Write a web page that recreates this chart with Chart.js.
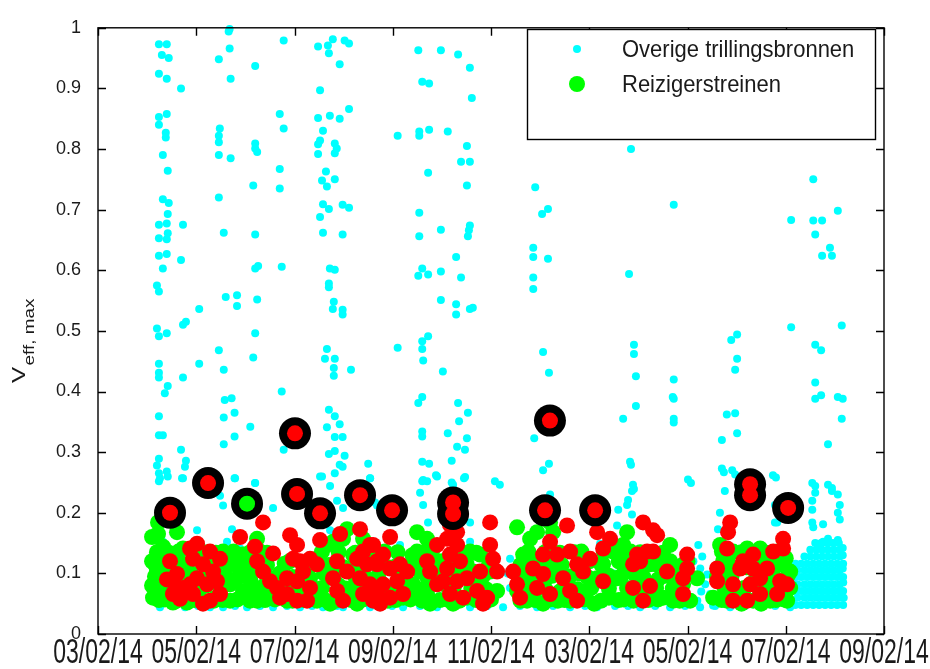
<!DOCTYPE html>
<html>
<head>
<meta charset="utf-8">
<script src="https://cdn.jsdelivr.net/npm/chart.js@4.4.1/dist/chart.umd.min.js"></script>
<style>
html,body{margin:0;padding:0;background:#fff;}
#wrap{width:930px;height:669px;position:relative;}
canvas{display:block;}
</style>
</head>
<body>
<div id="wrap"><canvas id="c" width="930" height="669"></canvas></div>
<script>
// ---------- tick labels ----------
const xTickValues = [0,1,2,3,4,5,6,7,8];
const xTickLabels = ['03/02/14','05/02/14','07/02/14','09/02/14','11/02/14','03/02/14','05/02/14','07/02/14','09/02/14'];
const yTickLabels = ['0','0.1','0.2','0.3','0.4','0.5','0.6','0.7','0.8','0.9','1'];
const legendLabels = ['Overige trillingsbronnen','Reizigerstreinen'];
const yAxisTitle = 'V';
const yAxisSub = 'eff, max';

// ---------- series: Overige trillingsbronnen (cyan) [x, V] ----------
const otherSources = [
[0.62,0.973],[0.70,0.973],[0.65,0.955],[0.72,0.95],[0.62,0.924],[0.70,0.916],[0.845,0.90],[0.62,0.853],[0.70,0.858],[0.62,0.84],[0.69,0.827],[0.69,0.819],[0.66,0.79],[0.71,0.764],[0.66,0.717],[0.72,0.711],[0.71,0.693],[0.62,0.675],[0.70,0.677],[0.865,0.675],[0.62,0.653],[0.71,0.661],[0.70,0.651],[0.62,0.624],[0.70,0.627],[0.66,0.603],[0.845,0.617],[0.60,0.575],[0.62,0.565],[1.03,0.536],[0.865,0.51],[0.895,0.515],[0.60,0.504],[0.62,0.491],[0.70,0.496],[0.62,0.446],[0.62,0.431],[0.62,0.423],[1.03,0.446],[0.865,0.423],[0.71,0.409],[0.68,0.397],[0.62,0.359],[0.62,0.328],[0.66,0.328],[0.845,0.304],[0.62,0.289],[0.895,0.286],[0.60,0.278],[0.885,0.276],[0.62,0.265],[0.70,0.268],[0.71,0.26],[0.865,0.257],[0.62,0.252],
[1.33,0.994],[1.34,0.998],[1.34,0.966],[1.23,0.948],[1.35,0.916],[1.60,0.937],[1.89,0.979],[1.24,0.834],[1.23,0.822],[1.23,0.811],[1.23,0.79],[1.35,0.785],[1.60,0.809],[1.60,0.801],[1.62,0.795],[1.85,0.858],[1.89,0.834],[1.85,0.767],[1.85,0.735],[1.58,0.74],[1.23,0.72],[1.28,0.662],[1.60,0.659],[1.60,0.603],[1.63,0.607],[1.87,0.606],[1.30,0.556],[1.415,0.559],[1.415,0.541],[1.62,0.552],[1.60,0.496],[1.23,0.468],[1.58,0.456],[1.28,0.436],[1.87,0.40],[1.29,0.386],[1.36,0.389],[1.39,0.365],[1.28,0.357],[1.55,0.342],[1.39,0.326],[1.28,0.313],[1.89,0.304],[1.39,0.257],[1.60,0.249],
[2.24,0.969],[2.34,0.971],[2.39,0.981],[2.51,0.979],[2.555,0.974],[2.35,0.958],[2.46,0.94],[2.26,0.897],[2.555,0.866],[2.24,0.851],[2.36,0.855],[2.46,0.85],[2.29,0.83],[2.26,0.814],[2.24,0.808],[2.41,0.809],[2.43,0.801],[2.24,0.792],[2.41,0.793],[2.32,0.763],[2.28,0.748],[2.41,0.75],[2.33,0.738],[2.29,0.709],[2.35,0.701],[2.26,0.688],[2.49,0.708],[2.555,0.703],[2.29,0.662],[2.49,0.659],[2.36,0.603],[2.41,0.601],[2.35,0.578],[2.35,0.572],[2.40,0.548],[2.39,0.536],[2.49,0.535],[2.49,0.527],[2.33,0.47],[2.31,0.454],[2.41,0.454],[2.40,0.439],[2.40,0.426],[2.575,0.436],[2.35,0.37],[2.41,0.359],[2.33,0.341],[2.46,0.346],[2.41,0.325],[2.49,0.325],[2.35,0.297],[2.41,0.302],[2.51,0.294],[2.46,0.279],[2.49,0.276],[2.75,0.281],[2.26,0.26],[2.41,0.265],[2.77,0.257],
[3.26,0.963],[3.49,0.963],[3.665,0.956],[3.785,0.934],[3.30,0.911],[3.37,0.908],[3.805,0.884],[3.05,0.822],[3.27,0.829],[3.27,0.822],[3.37,0.832],[3.56,0.829],[3.755,0.805],[3.695,0.779],[3.785,0.779],[3.36,0.761],[3.755,0.74],[3.27,0.695],[3.49,0.667],[3.785,0.674],[3.775,0.666],[3.765,0.656],[3.27,0.656],[3.645,0.622],[3.30,0.603],[3.26,0.591],[3.36,0.593],[3.49,0.598],[3.695,0.588],[3.49,0.551],[3.645,0.544],[3.645,0.527],[3.785,0.536],[3.815,0.538],[3.36,0.491],[3.30,0.483],[3.30,0.47],[3.05,0.472],[3.31,0.451],[3.51,0.433],[3.30,0.391],[3.26,0.381],[3.665,0.381],[3.765,0.365],[3.675,0.351],[3.30,0.334],[3.30,0.326],[3.56,0.331],[3.755,0.323],[3.655,0.309],[3.735,0.304],[3.30,0.284],[3.37,0.281],[3.60,0.286],[3.44,0.262],[3.30,0.252],[3.35,0.252],[3.725,0.257],[3.60,0.25],[4.04,0.252],
[4.58,0.99],[7.53,0.99],[5.425,0.80],[4.45,0.737],[4.58,0.701],[4.52,0.693],[4.43,0.637],[4.43,0.622],[4.58,0.619],[4.43,0.588],[4.43,0.569],[5.86,0.708],[5.405,0.594],[7.28,0.75],[7.53,0.698],[7.055,0.683],[7.28,0.682],[7.37,0.682],[7.30,0.659],[7.45,0.637],[7.37,0.624],[7.47,0.624],[4.53,0.465],[4.59,0.431],[5.455,0.477],[5.455,0.462],[5.475,0.425],[5.475,0.376],[5.345,0.355],[5.86,0.42],[5.85,0.391],[5.86,0.388],[5.86,0.355],[5.86,0.349],[6.445,0.485],[6.505,0.494],[6.505,0.454],[6.485,0.436],[6.40,0.362],[6.485,0.364],[6.505,0.331],[6.35,0.32],[7.055,0.506],[7.57,0.509],[7.30,0.477],[7.36,0.468],[7.30,0.415],[7.30,0.388],[7.36,0.394],[7.53,0.391],[7.58,0.388],[7.57,0.355],[7.43,0.313],[4.44,0.323],[4.59,0.281],[4.53,0.27],[5.425,0.279],[5.455,0.239],[6.035,0.249],[6.37,0.267],[6.485,0.263],[6.90,0.258],[7.30,0.244],[7.47,0.241],[4.09,0.246],
[0.631,0.257],[0.855,0.257],[1.395,0.257],[1.598,0.249],[1.242,0.228],[1.273,0.212],[1.782,0.208],[2.28,0.26],[2.362,0.244],[2.433,0.22],[2.494,0.208],[2.769,0.257],[2.84,0.212],[1.008,0.171],[1.364,0.173],[1.313,0.152],[1.446,0.141],[2.362,0.171],[2.433,0.141],[0.60,0.136],[0.662,0.152],
[3.309,0.254],[3.451,0.26],[3.736,0.259],[3.278,0.233],[3.309,0.213],[3.614,0.246],[3.359,0.184],[3.787,0.184],[4.601,0.23],[2.82,0.217],[3.074,0.147],[3.787,0.152],[5.283,0.179],[5.11,0.149],[5.283,0.131],[4.194,0.124],[4.194,0.076],[4.17,0.10],[5.212,0.071],[5.283,0.06],[5.25,0.10],
[7.27,0.249],[7.43,0.246],[7.47,0.236],[7.30,0.233],[7.53,0.23],[7.27,0.22],[7.55,0.213],[7.27,0.205],[7.53,0.20],[7.27,0.184],[7.38,0.181],[7.55,0.189],[7.28,0.176],[7.43,0.157],[7.53,0.155],[7.38,0.152],[7.35,0.141],
[5.415,0.284],[6.005,0.255],[6.35,0.273],[6.455,0.27],[6.87,0.262],[5.445,0.246],[5.435,0.236],[5.395,0.221],[5.385,0.213],[5.295,0.205],[5.435,0.197],[6.38,0.236],[6.33,0.20],[6.31,0.173],[6.89,0.213],[6.89,0.184],[6.11,0.147],[6.912,0.184],
[6.06,0.12],[6.13,0.108],[6.18,0.082],[6.23,0.066],[6.10,0.055],[6.26,0.047],[6.15,0.128],[6.08,0.095],[6.20,0.098],[6.14,0.07],
[0.631,0.044],[0.886,0.044],[1.14,0.044],[1.273,0.044],[1.517,0.044],[1.782,0.044],[2.056,0.044],[2.29,0.044],[2.494,0.044],[2.769,0.044],[2.871,0.044],[3.105,0.044],[3.451,0.044],[3.787,0.044],[4.123,0.044],[4.469,0.044],[4.805,0.044],[5.08,0.044],[5.141,0.05],[5.518,0.044],[5.823,0.044],[6.128,0.044],[6.434,0.044],[6.739,0.044],[7.045,0.044],
[0.753,0.046],[1.018,0.046],[1.395,0.046],[1.649,0.046],[1.924,0.046],[2.179,0.046],[2.433,0.046],[2.657,0.046],[2.993,0.046],[3.278,0.046],[3.614,0.046],[3.96,0.046],[4.296,0.046],[4.632,0.046],[4.958,0.046],[5.263,0.046],[5.396,0.046],[5.671,0.046],[5.976,0.046],[6.281,0.046],[6.587,0.046],[6.892,0.046],
[7.096,0.048],[7.157,0.048],[7.218,0.048],[7.279,0.048],[7.34,0.048],[7.401,0.048],[7.462,0.048],[7.523,0.048],[7.584,0.048],
[7.12,0.06],[7.19,0.06],[7.25,0.06],[7.31,0.06],[7.37,0.06],[7.43,0.06],[7.49,0.06],[7.55,0.06],[7.59,0.06],
[7.096,0.071],[7.157,0.071],[7.218,0.071],[7.279,0.071],[7.34,0.071],[7.401,0.071],[7.462,0.071],[7.523,0.071],[7.584,0.071],
[7.12,0.082],[7.19,0.082],[7.25,0.082],[7.31,0.082],[7.37,0.082],[7.43,0.082],[7.49,0.082],[7.55,0.082],[7.585,0.085],
[7.096,0.094],[7.157,0.094],[7.218,0.094],[7.279,0.094],[7.34,0.094],[7.401,0.094],[7.462,0.094],[7.523,0.094],[7.584,0.094],
[7.12,0.105],[7.19,0.105],[7.25,0.105],[7.31,0.105],[7.37,0.105],[7.43,0.105],[7.49,0.105],[7.55,0.105],[7.58,0.108],
[7.10,0.116],[7.157,0.116],[7.218,0.116],[7.279,0.116],[7.34,0.116],[7.401,0.116],[7.462,0.116],[7.523,0.116],[7.584,0.116],
[7.19,0.128],[7.25,0.128],[7.31,0.128],[7.37,0.128],[7.43,0.128],[7.49,0.128],[7.55,0.128],[7.58,0.13],
[7.25,0.139],[7.31,0.139],[7.37,0.139],[7.43,0.139],[7.49,0.139],[7.55,0.139],[7.58,0.142],
[7.30,0.15],[7.36,0.15],[7.42,0.15],[7.48,0.15],[7.54,0.15]
];

// ---------- series: Reizigerstreinen (green) ----------
const passengerTrains = [
[0.611,0.184],[0.611,0.165],[0.804,0.168],[0.662,0.144],[0.631,0.123],[0.60,0.103],[0.60,0.082],[0.60,0.06],[0.763,0.052],[0.906,0.052],[1.008,0.06],[0.865,0.141],[1.273,0.136],[1.344,0.115],[1.344,0.082],[1.344,0.055],[1.446,0.103],[1.476,0.071],[1.547,0.055],[1.619,0.157],[1.649,0.136],[1.476,0.131],[1.751,0.06],[1.924,0.055],[2.087,0.06],[2.158,0.092],[2.229,0.124],[2.331,0.147],[2.392,0.152],[2.494,0.157],[2.535,0.173],[2.596,0.131],[2.698,0.157],[2.229,0.055],[2.362,0.05],[2.637,0.05],[2.769,0.06],[2.84,0.082],
[0.55,0.16],[0.55,0.12],[0.55,0.08],[0.56,0.06],[0.70,0.10],[0.70,0.07],[0.75,0.12],[0.95,0.10],[1.05,0.12],[1.10,0.08],[1.20,0.10],[1.20,0.06],[1.25,0.13],[1.40,0.09],[1.40,0.125],[1.55,0.09],[1.60,0.11],[1.70,0.08],[1.85,0.10],[1.95,0.12],[2.00,0.07],[2.20,0.075],[2.30,0.10],[2.45,0.08],[2.50,0.11],[2.60,0.075],[2.70,0.10],[2.80,0.12],[2.90,0.08],[2.95,0.11],
[3.247,0.168],[3.349,0.157],[3.247,0.136],[3.278,0.103],[3.207,0.082],[3.247,0.06],[3.38,0.05],[3.614,0.05],[3.756,0.06],[3.787,0.136],[3.889,0.131],[3.818,0.103],[3.991,0.103],[4.062,0.071],[3.96,0.055],[4.265,0.176],[4.327,0.131],[4.296,0.103],[4.265,0.071],[4.398,0.157],[4.469,0.168],[4.601,0.184],[4.632,0.168],[4.367,0.055],[4.53,0.05],[4.805,0.055],[4.978,0.071],[5.08,0.092],[5.141,0.115],[5.243,0.136],[5.283,0.092],[2.84,0.131],[2.871,0.06],[3.105,0.06],[3.349,0.066],
[3.15,0.11],[3.20,0.13],[3.40,0.09],[3.50,0.12],[3.55,0.08],[3.70,0.10],[3.90,0.08],[4.35,0.09],[4.45,0.12],[4.55,0.09],[4.65,0.12],[4.70,0.07],[4.90,0.10],[5.00,0.12],[5.05,0.05],[5.20,0.06],[5.30,0.12],[4.85,0.135],
[5.385,0.168],[5.345,0.147],[5.385,0.115],[5.385,0.076],[5.487,0.06],[5.619,0.115],[5.721,0.124],[5.823,0.147],[5.823,0.12],[5.752,0.06],[5.854,0.055],[5.955,0.082],[6.027,0.055],[6.098,0.092],[6.332,0.147],[6.363,0.12],[6.261,0.06],[6.464,0.136],[6.607,0.141],[6.739,0.141],[6.872,0.124],[6.943,0.115],[7.045,0.103],[7.045,0.076],[7.014,0.055],[6.841,0.055],[6.668,0.055],[6.403,0.055],[6.332,0.087],
[5.45,0.10],[5.55,0.08],[5.60,0.13],[5.70,0.09],[5.90,0.10],[6.00,0.12],[6.40,0.10],[6.50,0.075],[6.60,0.11],[6.70,0.08],[6.80,0.10],[6.90,0.075],[7.00,0.125],[6.55,0.05],[6.75,0.05],
[0.62,0.056],[0.68,0.057],[0.80,0.055],[0.98,0.056],[1.05,0.057],[1.18,0.055],[1.27,0.056],[1.42,0.057],[1.62,0.055],[1.70,0.056],[1.80,0.057],[1.98,0.055],[2.10,0.056],[2.30,0.057],[2.42,0.055],[2.58,0.056],[2.70,0.057],[2.95,0.055],[3.03,0.056],[3.18,0.057],[3.30,0.055],[3.48,0.056],[3.55,0.057],[3.68,0.055],[3.85,0.056],[4.00,0.057],[4.30,0.055],[4.45,0.056],[4.60,0.057],[4.68,0.055],[4.75,0.056],[4.95,0.057],[5.12,0.055],[5.30,0.056],[5.35,0.057],[5.45,0.055],[5.60,0.056],[5.70,0.057],[5.92,0.055],[6.35,0.056],[6.48,0.057],[6.72,0.055],[6.90,0.056],[6.98,0.057],
[0.66,0.075],[0.90,0.074],[1.03,0.076],[1.25,0.075],[1.55,0.074],[1.65,0.076],[1.88,0.075],[2.05,0.074],[2.28,0.076],[2.52,0.075],[2.75,0.074],[2.98,0.076],[3.12,0.075],[3.30,0.074],[3.62,0.076],[3.80,0.075],[3.95,0.074],[4.40,0.076],[4.55,0.075],[4.88,0.074],[5.02,0.076],[5.20,0.075],[5.50,0.074],[5.68,0.076],[5.85,0.075],[6.38,0.074],[6.58,0.076],[6.82,0.075],[7.00,0.074],
[0.58,0.095],[0.78,0.094],[0.88,0.096],[1.12,0.095],[1.30,0.094],[1.50,0.096],[1.72,0.095],[1.98,0.094],[2.12,0.096],[2.40,0.095],[2.62,0.094],[2.85,0.096],[3.08,0.095],[3.35,0.094],[3.48,0.096],[3.62,0.095],[3.78,0.094],[3.92,0.096],[4.28,0.095],[4.48,0.094],[4.62,0.096],[4.80,0.095],[4.98,0.094],[5.20,0.096],[5.32,0.095],[5.55,0.094],[5.78,0.096],[5.88,0.095],[6.30,0.094],[6.45,0.096],[6.70,0.095],[6.88,0.094],[7.02,0.096],
[0.58,0.115],[0.68,0.114],[0.85,0.116],[0.90,0.115],[1.18,0.114],[1.32,0.116],[1.52,0.115],[1.72,0.114],[1.90,0.116],[2.18,0.115],[2.35,0.114],[2.62,0.116],[2.90,0.115],[3.05,0.114],[3.25,0.116],[3.42,0.115],[3.60,0.114],[3.75,0.116],[3.98,0.115],[4.30,0.114],[4.40,0.116],[4.58,0.115],[4.72,0.114],[4.95,0.116],[5.12,0.115],[5.35,0.114],[5.50,0.116],[5.68,0.115],[5.95,0.114],[6.42,0.116],[6.62,0.115],[6.78,0.114],[6.98,0.116],
[0.60,0.135],[0.72,0.134],[0.82,0.136],[1.08,0.135],[1.20,0.134],[1.38,0.136],[1.55,0.135],[1.72,0.134],[2.28,0.136],[2.45,0.135],[2.62,0.134],[2.92,0.136],[3.05,0.135],[3.30,0.134],[3.40,0.136],[3.70,0.135],[3.85,0.134],[4.38,0.136],[4.55,0.135],[4.70,0.134],[4.92,0.136],[5.15,0.135],[5.30,0.134],[5.42,0.136],[5.52,0.135],[5.75,0.134],[6.35,0.136],[6.55,0.135],[6.80,0.134],[6.92,0.136]
];

// ---------- series: other trains (red) ----------
const otherTrains = [
[0.733,0.12],[0.804,0.099],[0.702,0.09],[0.763,0.066],[0.865,0.076],[0.937,0.141],[1.008,0.149],[0.967,0.124],[1.069,0.115],[1.14,0.136],[1.242,0.124],[1.171,0.103],[1.008,0.092],[0.937,0.082],[1.11,0.082],[1.211,0.087],[1.242,0.066],[1.14,0.055],[1.069,0.05],[0.967,0.066],[0.835,0.058],[0.763,0.087],
[1.446,0.16],[1.68,0.184],[1.598,0.144],[1.619,0.12],[1.68,0.103],[1.782,0.133],[1.751,0.087],[1.822,0.076],[1.924,0.092],[1.955,0.163],[2.026,0.147],[1.985,0.124],[2.056,0.12],[2.087,0.103],[2.158,0.124],[2.229,0.115],[2.026,0.087],[1.924,0.066],[1.853,0.06],[2.026,0.055],[2.128,0.055],[2.158,0.076],[2.26,0.155],[2.464,0.165],[2.667,0.173],
[2.433,0.12],[2.392,0.092],[2.433,0.071],[2.494,0.055],[2.535,0.103],[2.637,0.124],[2.698,0.136],[2.769,0.147],[2.738,0.115],[2.667,0.092],[2.769,0.082],[2.698,0.066],[2.80,0.055],[2.84,0.12],
[2.80,0.147],[2.901,0.131],[2.973,0.16],[2.84,0.115],[2.973,0.108],[3.074,0.115],[3.146,0.103],[3.044,0.087],[2.901,0.082],[2.84,0.066],[2.973,0.06],[3.105,0.066],[2.871,0.05],
[3.614,0.196],[3.583,0.18],[3.655,0.168],[3.553,0.157],[3.451,0.147],[3.655,0.147],[3.583,0.131],[3.349,0.12],[3.553,0.108],[3.685,0.12],[3.512,0.087],[3.655,0.087],[3.756,0.092],[3.889,0.103],[3.583,0.066],[3.716,0.06],[3.858,0.071],[3.96,0.06],[3.991,0.184],[3.991,0.147],[4.021,0.124],[4.062,0.103],[3.451,0.082],[3.38,0.103],[3.919,0.05],
[4.225,0.103],[4.265,0.082],[4.296,0.06],[4.428,0.108],[4.53,0.099],[4.469,0.076],[4.601,0.152],[4.53,0.131],[4.673,0.131],[4.601,0.066],[4.774,0.179],[4.805,0.136],[4.876,0.115],[4.734,0.092],[4.805,0.071],[5.009,0.124],[5.08,0.168],[5.141,0.141],[5.212,0.157],[4.937,0.103],[5.141,0.087],[4.876,0.055],
[5.548,0.184],[5.65,0.171],[5.691,0.163],[5.487,0.131],[5.589,0.136],[5.65,0.136],[5.446,0.115],[5.518,0.12],[5.792,0.103],[5.996,0.131],[5.996,0.108],[5.955,0.092],[5.955,0.066],[5.446,0.076],[5.619,0.079],[5.548,0.055],
[6.434,0.184],[6.413,0.168],[6.403,0.141],[6.301,0.108],[6.301,0.087],[6.464,0.082],[6.536,0.108],[6.566,0.12],[6.668,0.131],[6.668,0.108],[6.739,0.092],[6.637,0.082],[6.607,0.055],[6.464,0.055],[6.739,0.066],[6.872,0.136],[6.973,0.157],[6.973,0.141],[6.943,0.087],[6.912,0.066],[7.014,0.082],[6.81,0.108]
];

// ---------- highlighted maxima (black ring) ----------
const maxX = [0.733,1.12,1.517,2.005,2.026,2.26,2.667,2.993,3.614,3.614,4.60,4.55,5.06,6.637,6.637,7.024];
const maxY = [0.200,0.249,0.215,0.331,0.231,0.199,0.229,0.204,0.217,0.198,0.352,0.204,0.204,0.247,0.229,0.208];
const maxIsPassenger = [false,false,true,false,false,false,false,false,false,false,false,false,false,false,false,false];

const CYAN='#00ffff', GREEN='#00ff00', RED='#ff0000', BLACK='#000000';
const toPts = arr => arr.map(p => ({x:p[0], y:p[1]}));
const maxPts = maxX.map((x,i)=>({x:x, y:maxY[i]}));

const frame = {
  id:'frame',
  afterDraw(chart){
    const ctx = chart.ctx, a = chart.chartArea;
    const xs = chart.scales.x, ys = chart.scales.y;
    ctx.save();
    ctx.strokeStyle = '#000'; ctx.lineWidth = 1.4;
    ctx.beginPath();
    xTickValues.forEach(v=>{
      const px = Math.round(xs.getPixelForValue(v))+0.5;
      ctx.moveTo(px, a.bottom); ctx.lineTo(px, a.bottom-8);
      ctx.moveTo(px, a.top); ctx.lineTo(px, a.top+8);
    });
    ys.ticks.forEach(t=>{
      const py = Math.round(ys.getPixelForValue(t.value))+0.5;
      ctx.moveTo(a.left, py); ctx.lineTo(a.left+8, py);
      ctx.moveTo(a.right, py); ctx.lineTo(a.right-8, py);
    });
    ctx.stroke();
    ctx.strokeRect(a.left, a.top, a.right-a.left, a.bottom-a.top);
    // x tick labels (tall condensed)
    ctx.fillStyle = '#1a1a1a';
    ctx.font = '23px "Liberation Sans", Arial, sans-serif';
    ctx.textAlign = 'center'; ctx.textBaseline = 'alphabetic';
    xTickValues.forEach((v,i)=>{
      const px = xs.getPixelForValue(v);
      ctx.save(); ctx.translate(px, 663); ctx.scale(1, 1.5);
      ctx.fillText(xTickLabels[i], 0, 0); ctx.restore();
    });
    // y axis title
    ctx.save();
    ctx.fillStyle = '#1a1a1a';
    ctx.translate(25, 383); ctx.rotate(-Math.PI/2); ctx.scale(1.35,1);
    ctx.textAlign='left'; ctx.textBaseline='alphabetic';
    ctx.font = '18px "Liberation Sans", Arial, sans-serif';
    ctx.fillText(yAxisTitle, 0, 0);
    const w = ctx.measureText(yAxisTitle).width;
    ctx.font = '14px "Liberation Sans", Arial, sans-serif';
    ctx.fillText(yAxisSub, w+1, 9);
    ctx.restore();
    // legend
    const lx=527, ly=29, lw=348, lh=110;
    ctx.fillStyle='#fff'; ctx.fillRect(lx,ly,lw,lh);
    ctx.lineWidth=1.4; ctx.strokeStyle='#000'; ctx.strokeRect(lx+0.5,ly+0.5,lw,lh);
    ctx.fillStyle=CYAN; ctx.beginPath(); ctx.arc(577,49,4,0,Math.PI*2); ctx.fill();
    ctx.fillStyle=GREEN; ctx.beginPath(); ctx.arc(577,84,8,0,Math.PI*2); ctx.fill();
    ctx.fillStyle='#1a1a1a'; ctx.textAlign='left'; ctx.textBaseline='middle';
    ctx.font='22px "Liberation Sans", Arial, sans-serif';
    [[legendLabels[0],50],[legendLabels[1],85]].forEach(([t,y])=>{
      ctx.save(); ctx.translate(622,y); ctx.scale(1,1.12); ctx.fillText(t,0,0); ctx.restore();
    });
    ctx.restore();
  }
};

new Chart(document.getElementById('c'), {
  type:'scatter',
  data:{
    datasets:[
      {label:'maxCenters', data:maxPts, order:1, clip:false, pointRadius:8, pointHoverRadius:8, borderWidth:0,
       pointBackgroundColor: maxIsPassenger.map(p=>p?GREEN:RED), pointBorderWidth:0},
      {label:'maxRings', data:maxPts, order:2, clip:false, pointRadius:16, pointHoverRadius:16, borderWidth:0,
       pointBackgroundColor:BLACK, pointBorderWidth:0},
      {label:'other trains', data:toPts(otherTrains), order:3, clip:false, pointRadius:8, pointHoverRadius:8,
       pointBackgroundColor:RED, pointBorderWidth:0},
      {label:legendLabels[1], data:toPts(passengerTrains), order:4, clip:false, pointRadius:8, pointHoverRadius:8,
       pointBackgroundColor:GREEN, pointBorderWidth:0},
      {label:legendLabels[0], data:toPts(otherSources), order:5, clip:false, pointRadius:4, pointHoverRadius:4,
       pointBackgroundColor:CYAN, pointBorderWidth:0}
    ]
  },
  options:{
    responsive:false, animation:false, devicePixelRatio:1,
    layout:{padding:{top:15,right:46,left:0,bottom:0}},
    plugins:{legend:{display:false}, tooltip:{enabled:false}},
    events:[],
    scales:{
      x:{type:'linear', min:0, max:8,
         ticks:{display:false, stepSize:1},
         grid:{display:false}, border:{display:false},
         afterFit(s){ s.height = 35; }},
      y:{type:'linear', min:0, max:1,
         ticks:{stepSize:0.1, padding:17, color:'#1a1a1a',
                font:{family:'"Liberation Sans", Arial, sans-serif', size:18},
                callback:(v,i)=>yTickLabels[i]},
         grid:{display:false, drawTicks:false}, border:{display:false},
         afterFit(s){ s.width = 98; }}
    }
  },
  plugins:[frame]
});
</script>
</body>
</html>
